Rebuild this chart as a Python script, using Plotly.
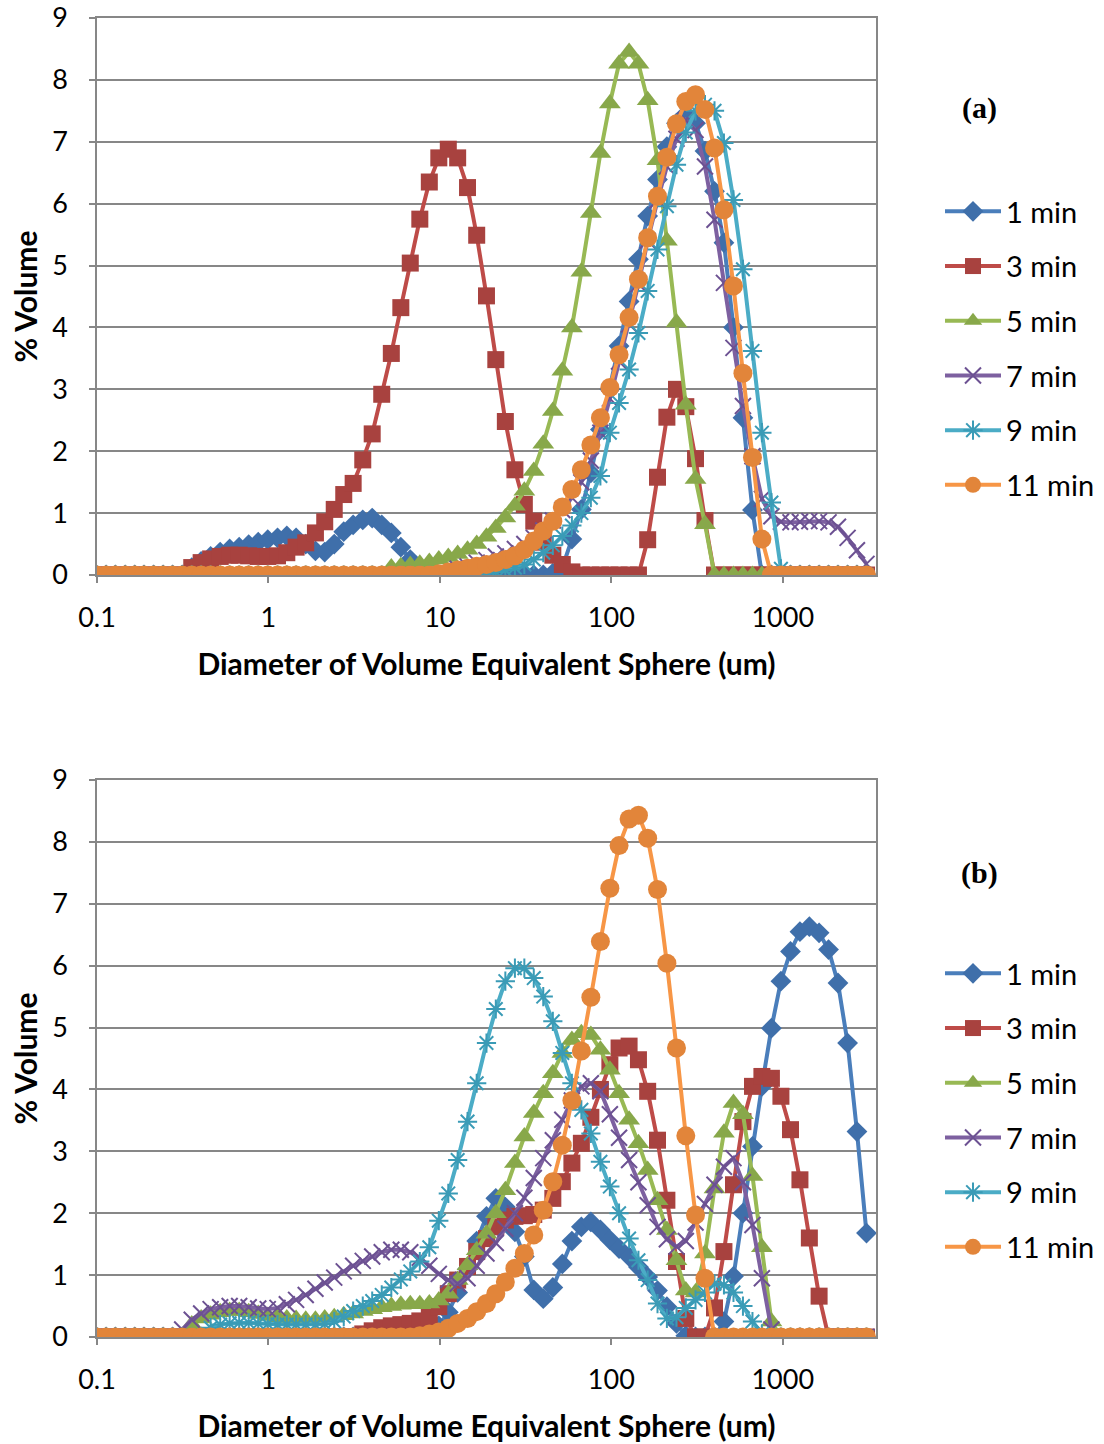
import numpy as np
import plotly.graph_objects as go

# Size classes (um) of the laser-diffraction volume distribution
sizes = [0.0995, 0.113, 0.128, 0.146, 0.166, 0.188, 0.214, 0.243, 0.276, 0.314,
         0.357, 0.405, 0.460, 0.523, 0.594, 0.675, 0.767, 0.872, 0.991, 1.13,
         1.28, 1.45, 1.65, 1.88, 2.13, 2.42, 2.75, 3.12, 3.55, 4.03,
         4.58, 5.21, 5.92, 6.72, 7.64, 8.68, 9.86, 11.2, 12.7, 14.5,
         16.4, 18.7, 21.2, 24.1, 27.4, 31.1, 35.3, 40.1, 45.6, 51.8,
         58.9, 66.9, 76.0, 86.4, 98.1, 111, 127, 144, 163, 186,
         211, 240, 272, 310, 352, 400, 454, 516, 586, 666,
         756, 859, 976, 1110, 1260, 1430, 1630, 1850, 2100, 2390,
         2710, 3080]

series_names = ["1 min", "3 min", "5 min", "7 min", "9 min", "11 min"]

# ---- (a) % volume per size class ----
a_1min = [0]*10 + [0.12, 0.22, 0.3, 0.37, 0.42, 0.45, 0.49, 0.53, 0.57, 0.6,
          0.63, 0.6, 0.5, 0.39, 0.37, 0.5, 0.7, 0.81, 0.89, 0.92,
          0.81, 0.68, 0.45, 0.25, 0.08, 0.0] + [0]*12 + \
         [0.03, 0.12, 0.58, 1.06, 1.65, 2.35, 3.0, 3.7, 4.42, 5.1,
          5.8, 6.39, 6.92, 7.3, 7.45, 7.3, 6.85, 6.2, 5.37, 4.0,
          2.54, 1.05] + [0]*12
a_3min = [0]*10 + [0.12, 0.2, 0.26, 0.3, 0.32, 0.32, 0.31, 0.3, 0.3, 0.31,
          0.36, 0.45, 0.52, 0.68, 0.86, 1.06, 1.3, 1.48, 1.86, 2.28,
          2.92, 3.58, 4.32, 5.04, 5.75, 6.35, 6.74, 6.88, 6.74, 6.26,
          5.49, 4.51, 3.48, 2.48, 1.7, 1.14, 0.87, 0.53, 0.32, 0.17,
          0.05] + [0]*7 + [0.57, 1.58, 2.55, 3.0, 2.72, 1.88, 0.88] + [0]*17
a_5min = [0]*31 + [0.12, 0.14, 0.16, 0.18, 0.21, 0.25, 0.29, 0.34, 0.41,
          0.5, 0.62, 0.76, 0.93, 1.12, 1.36, 1.68, 2.12, 2.65, 3.3,
          4.0, 4.9, 5.85, 6.82, 7.62, 8.26, 8.45, 8.26, 7.67, 6.7,
          5.4, 4.08, 2.75, 1.55, 0.82] + [0]*17
a_7min = [0]*38 + [0.1, 0.14, 0.2, 0.24, 0.3, 0.35, 0.42, 0.5, 0.6, 0.72,
          0.88, 1.05, 1.25, 1.5, 1.85, 2.3, 2.85, 3.45, 4.05, 4.7,
          5.4, 6.05, 6.6, 7.05, 7.35, 7.19, 6.6, 5.74, 4.72, 3.67,
          2.73, 1.92, 1.23, 0.95, 0.86, 0.85, 0.86, 0.87, 0.87, 0.85,
          0.78, 0.6, 0.4, 0.18]
a_9min = [0]*41 + [0.03, 0.05, 0.08, 0.12, 0.17, 0.25, 0.36, 0.48, 0.63,
          0.8, 1.0, 1.25, 1.6, 2.3, 2.78, 3.32, 3.91, 4.59, 5.26,
          5.96, 6.63, 7.15, 7.5, 7.6, 7.5, 6.98, 6.06, 4.94, 3.62,
          2.3, 1.17, 0.1] + [0]*9
a_11min = [0]*36 + [0.02, 0.05, 0.08, 0.11, 0.14, 0.17, 0.2, 0.25, 0.31, 0.41,
           0.55, 0.71, 0.87, 1.1, 1.38, 1.7, 2.1, 2.54, 3.03, 3.56,
           4.16, 4.78, 5.45, 6.12, 6.75, 7.29, 7.65, 7.76, 7.52, 6.9,
           5.9, 4.67, 3.26, 1.9, 0.58] + [0]*11

# ---- (b) % volume per size class ----
b_1min = [0]*35 + [0.05, 0.18, 0.4, 0.72, 1.1, 1.55, 1.95, 2.24, 2.1, 1.7,
          1.3, 0.76, 0.62, 0.8, 1.18, 1.55, 1.78, 1.86, 1.73, 1.57,
          1.43, 1.3, 1.13, 0.97, 0.75, 0.49, 0.22, 0.02, 0, 0,
          0, 0.25, 0.98, 2.0, 3.08, 4.05, 4.99, 5.75, 6.23, 6.55,
          6.63, 6.53, 6.26, 5.72, 4.75, 3.32, 1.68]
b_3min = [0]*28 + [0.05, 0.1, 0.15, 0.18, 0.2, 0.22, 0.26, 0.32, 0.49, 0.7,
          0.92, 1.14, 1.38, 1.59, 1.78, 1.89, 1.95, 1.96, 1.98, 2.05,
          2.24, 2.51, 2.81, 3.13, 3.55, 4.0, 4.4, 4.67, 4.7, 4.48,
          3.97, 3.18, 2.21, 1.22, 0.3, 0, 0, 0.47, 1.38, 2.46,
          3.48, 4.05, 4.21, 4.18, 3.89, 3.35, 2.54, 1.6, 0.66] + [0]*5
b_5min = [0]*10 + [0.2, 0.3, 0.36, 0.4, 0.42, 0.42, 0.4, 0.37, 0.34, 0.32,
          0.3, 0.29, 0.28, 0.28, 0.3, 0.32, 0.35, 0.38, 0.42, 0.45,
          0.48, 0.5, 0.52, 0.53, 0.53, 0.54, 0.59, 0.7, 0.92, 1.16,
          1.4, 1.67, 2.0, 2.37, 2.81, 3.24, 3.62, 3.94, 4.26, 4.59,
          4.8, 4.91, 4.88, 4.64, 4.32, 3.94, 3.51, 3.13, 2.7, 2.21,
          1.73, 1.24, 0.75, 0.72, 1.35, 2.4, 3.3, 3.78, 3.6, 2.6,
          1.45, 0.25] + [0]*10
b_7min = [0]*9 + [0.12, 0.28, 0.38, 0.45, 0.48, 0.5, 0.5, 0.48, 0.46, 0.45,
          0.47, 0.53, 0.6, 0.68, 0.78, 0.88, 0.96, 1.06, 1.15, 1.23,
          1.3, 1.37, 1.41, 1.41, 1.37, 1.28, 1.15, 1.02, 0.92, 0.86,
          0.95, 1.15, 1.35, 1.52, 1.75, 2.0, 2.25, 2.57, 2.89, 3.18,
          3.51, 3.82, 4.05, 4.1, 3.97, 3.6, 3.22, 2.86, 2.5, 2.13,
          1.78, 1.58, 1.46, 1.55, 1.85, 2.15, 2.46, 2.75, 2.89, 2.5,
          1.81, 0.95, 0.12] + [0]*10
b_9min = [0]*12 + [0.15, 0.2, 0.22, 0.23, 0.23, 0.22, 0.21, 0.2, 0.2, 0.2,
          0.2, 0.2, 0.21, 0.25, 0.33, 0.42, 0.5, 0.58, 0.68, 0.8,
          0.93, 1.06, 1.22, 1.45, 1.88, 2.32, 2.86, 3.48, 4.1, 4.75,
          5.3, 5.75, 5.96, 5.96, 5.8, 5.5, 5.1, 4.59, 4.1, 3.67,
          3.29, 2.83, 2.43, 2.0, 1.59, 1.24, 0.92, 0.54, 0.3, 0.32,
          0.47, 0.6, 0.72, 0.86, 0.84, 0.72, 0.5, 0.25, 0.05] + [0]*11
b_11min = [0]*34 + [0.02, 0.05, 0.08, 0.14, 0.22, 0.3, 0.41, 0.54, 0.7, 0.89,
           1.11, 1.35, 1.65, 2.05, 2.51, 3.1, 3.82, 4.62, 5.49, 6.39,
           7.25, 7.94, 8.37, 8.43, 8.06, 7.23, 6.04, 4.67, 3.25, 1.97,
           0.95] + [0]*17

panel_a = [a_1min, a_3min, a_5min, a_7min, a_9min, a_11min]
panel_b = [b_1min, b_3min, b_5min, b_7min, b_9min, b_11min]

# Office-style series styling
line_colors = ["#4A7EBB", "#BE4B48", "#98B954", "#7D60A0", "#4BACC6", "#F79646"]
marker_colors = ["#3F6FAA", "#A8423F", "#88A84A", "#6C5192", "#3A9BB6", "#E2853A"]
symbols = ["diamond", "square", "triangle-up", "x-thin", "asterisk", "circle"]
msizes = [16, 17, 19, 16, 16, 19]

FONT = "Lato"
GRID = "#878787"
X_MAX = 3500

fig = go.Figure()


def add_panel(data, xa, ya, legend_name):
    for k, (name, vals) in enumerate(zip(series_names, data)):
        line_based = symbols[k] in ("x-thin", "asterisk")
        marker = dict(symbol=symbols[k], size=msizes[k], color=marker_colors[k])
        marker["line"] = dict(color=marker_colors[k], width=2 if line_based else 0)
        fig.add_trace(go.Scatter(
            x=sizes[:len(vals)], y=vals, name=name, mode="lines+markers",
            line=dict(color=line_colors[k], width=4),
            marker=marker, xaxis=xa, yaxis=ya,
            legend=legend_name, legendgroup=legend_name + name,
        ))


add_panel(panel_a, "x", "y", "legend")
add_panel(panel_b, "x2", "y2", "legend2")

W, H = 1104, 1444
x_dom = [97 / W, 876 / W]
top_dom = [1 - 575 / H, 1 - 18 / H]
bot_dom = [1 - 1337 / H, 1 - 780 / H]

xaxis_common = dict(
    type="log", range=[-1, np.log10(X_MAX)], automargin=False,
    tickvals=[0.1, 1, 10, 100, 1000], ticktext=["0.1", "1", "10", "100", "1000"],
    showgrid=False, zeroline=False,
    showline=True, linecolor=GRID, linewidth=1.5, mirror=True,
    ticks="outside", ticklen=6, tickcolor=GRID, tickwidth=1.5,
    tickfont=dict(family=FONT, size=27, color="black"), ticklabelstandoff=12,
    title=dict(text="<b>Diameter of Volume Equivalent Sphere (um)</b>",
               font=dict(family=FONT, size=30, color="black"), standoff=22),
    domain=x_dom,
)
yaxis_common = dict(
    range=[0, 9], tick0=0, dtick=1, automargin=False,
    showgrid=True, gridcolor=GRID, gridwidth=1.5, zeroline=False,
    showline=True, linecolor=GRID, linewidth=1.5, mirror=True,
    ticks="outside", ticklen=6, tickcolor=GRID, tickwidth=1.5,
    tickfont=dict(family=FONT, size=27, color="black"), ticklabelstandoff=16,
    title=dict(text="<b>% Volume</b>", font=dict(family=FONT, size=30, color="black"),
               standoff=6),
)

legend_common = dict(
    xanchor="left", yanchor="top", bgcolor="rgba(0,0,0,0)",
    font=dict(family=FONT, size=29, color="black"),
    tracegroupgap=14, itemwidth=56,
)

label_font = dict(family="Liberation Serif", size=30, color="black")

fig.update_layout(
    width=W, height=H, margin=dict(l=0, r=0, t=0, b=0, autoexpand=False),
    paper_bgcolor="white", plot_bgcolor="white",
    xaxis=dict(xaxis_common, anchor="y"),
    yaxis=dict(yaxis_common, domain=top_dom, anchor="x"),
    xaxis2=dict(xaxis_common, anchor="y2"),
    yaxis2=dict(yaxis_common, domain=bot_dom, anchor="x2"),
    legend=dict(legend_common, x=940 / W, y=1 - 186 / H),
    legend2=dict(legend_common, x=940 / W, y=1 - 948 / H),
    annotations=[
        dict(text="<b>(a)</b>", x=980 / W, y=1 - 108 / H, xref="paper", yref="paper",
             xanchor="center", yanchor="middle", showarrow=False, font=label_font),
        dict(text="<b>(b)</b>", x=980 / W, y=1 - 873 / H, xref="paper", yref="paper",
             xanchor="center", yanchor="middle", showarrow=False, font=label_font),
    ],
)

fig.write_html("out.html")
